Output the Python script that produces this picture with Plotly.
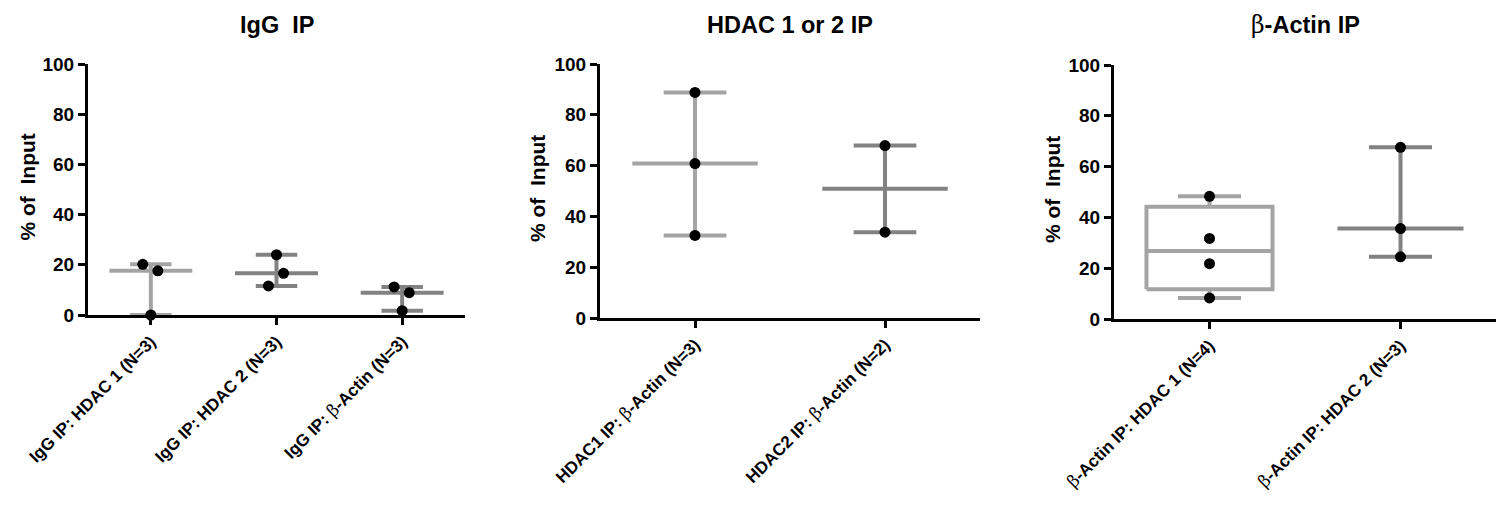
import numpy as np
import plotly.graph_objects as go

# ---------------- data ----------------
BETA = "<span style='font-family:DejaVu Serif;font-weight:normal'>β</span>"

igg_title = "IgG\u00a0 IP"
igg_labels = ["IgG IP: HDAC 1 (N=3)", "IgG IP: HDAC 2 (N=3)", "IgG IP: " + BETA + "-Actin (N=3)"]
igg_values = [[20.2, 17.6, 0.0], [24.0, 16.6, 11.6], [11.2, 8.9, 1.7]]
igg_jitter = [[-0.064, 0.056, 0.0], [0.0, 0.056, -0.064], [-0.064, 0.056, 0.0]]
igg_styles = ["range", "range", "range"]

hdac_title = "HDAC 1 or 2 IP"
hdac_labels = ["HDAC1 IP: " + BETA + "-Actin (N=3)", "HDAC2 IP: " + BETA + "-Actin (N=2)"]
hdac_values = [[88.8, 60.8, 32.5], [67.9, 33.8]]
hdac_jitter = [[0.0, 0.0, 0.0], [0.0, 0.0]]
hdac_styles = ["range", "range"]

actin_title = BETA + "-Actin IP"
actin_labels = [BETA + "-Actin IP: HDAC 1 (N=4)", BETA + "-Actin IP: HDAC 2 (N=3)"]
actin_values = [[48.3, 31.7, 21.8, 8.3], [67.6, 35.6, 24.5]]
actin_jitter = [[0.0, 0.0, 0.0, 0.0], [0.0, 0.0, 0.0]]
actin_styles = ["box", "range"]

y_title = "% of\u00a0 Input"
y_ticks = [0, 20, 40, 60, 80, 100]

# ---------------- style ----------------
OFF = 8                      # page body margin of the browser
W, H = 1507 - 2 * OFF, 506 - 2 * OFF
LIGHT = "#a4a4a4"
DARK = "#828282"
FONT = "Liberation Sans, Arial, sans-serif"
LW = 4
HALF = 0.33   # half-width of median line / box
CAP = 0.165   # half-width of caps

# pixel boxes of the plot areas in the page (x0, x1, ytop, ybottom)
areas = [(88, 465, 64, 315), (600, 980, 64, 318), (1114, 1496, 65, 319)]
ytitle_x = [27, 537, 1052]

panels = [
    (igg_title, igg_labels, igg_values, igg_jitter, igg_styles),
    (hdac_title, hdac_labels, hdac_values, hdac_jitter, hdac_styles),
    (actin_title, actin_labels, actin_values, actin_jitter, actin_styles),
]


def px(x):
    return (x - OFF) / W


def py(y):
    return 1 - (y - OFF) / H


fig = go.Figure()
annotations = []
layout = {}

for p, (title, labels, values, jitter, styles) in enumerate(panels):
    sfx = "" if p == 0 else str(p + 1)
    xa, ya = "x" + sfx, "y" + sfx
    x0, x1, yt, yb = areas[p]
    n = len(labels)
    for i, vals in enumerate(values):
        col = LIGHT if i == 0 else DARK
        v = np.array(vals)
        vmin, vmax, med = v.min(), v.max(), float(np.median(v))
        line = dict(color=col, width=LW)
        if styles[i] == "box":
            q1, q3 = np.percentile(v, [25, 75], method="weibull")
            fig.add_trace(go.Scatter(x=[i, i, None, i, i], y=[q3, vmax, None, q1, vmin], mode="lines",
                                     line=line, xaxis=xa, yaxis=ya, cliponaxis=False, hoverinfo="skip"))
            fig.add_trace(go.Scatter(x=[i - HALF, i + HALF, i + HALF, i - HALF, i - HALF],
                                     y=[q1, q1, q3, q3, q1], mode="lines",
                                     line=dict(color=col, width=LW), xaxis=xa, yaxis=ya,
                                     cliponaxis=False, hoverinfo="skip"))
        else:
            fig.add_trace(go.Scatter(x=[i, i], y=[vmin, vmax], mode="lines", line=line,
                                     xaxis=xa, yaxis=ya, cliponaxis=False, hoverinfo="skip"))
        fig.add_trace(go.Scatter(x=[i - CAP, i + CAP, None, i - CAP, i + CAP],
                                 y=[vmax, vmax, None, vmin, vmin], mode="lines", line=line,
                                 xaxis=xa, yaxis=ya, cliponaxis=False, hoverinfo="skip"))
        fig.add_trace(go.Scatter(x=[i - HALF, i + HALF], y=[med, med], mode="lines", line=line,
                                 xaxis=xa, yaxis=ya, cliponaxis=False, hoverinfo="skip"))
    for i, vals in enumerate(values):
        fig.add_trace(go.Scatter(x=[i + j for j in jitter[i]], y=vals, mode="markers",
                                 marker=dict(color="black", size=11),
                                 xaxis=xa, yaxis=ya, cliponaxis=False, hoverinfo="skip"))

    axis_common = dict(showline=True, linecolor="black", linewidth=3, ticks="outside",
                       ticklen=7, tickwidth=2.5, tickcolor="black", showgrid=False,
                       zeroline=False, mirror=False, automargin=False)
    layout["xaxis" + sfx] = dict(axis_common, domain=[px(x0), px(x1)], range=[-0.5, n - 0.5],
                                 tickvals=list(range(n)), ticktext=labels, tickangle=-45,
                                 anchor=ya, fixedrange=True,
                                 tickfont=dict(family=FONT, size=17, color="black", weight="bold"))
    layout["yaxis" + sfx] = dict(axis_common, domain=[py(yb), py(yt)], range=[0, 100],
                                 tickvals=y_ticks, anchor=xa, fixedrange=True,
                                 tickfont=dict(family=FONT, size=19, color="black", weight="bold"))
    annotations.append(dict(text=title, x=px((x0 + x1) / 2), y=py(25), xref="paper", yref="paper",
                            xanchor="center", yanchor="middle", showarrow=False,
                            font=dict(family=FONT, size=23.5, color="black", weight="bold")))
    annotations.append(dict(text=y_title, x=px(ytitle_x[p]), y=py((yt + yb) / 2 - 2),
                            xref="paper", yref="paper", xanchor="center", yanchor="middle",
                            textangle=-90, showarrow=False,
                            font=dict(family=FONT, size=21, color="black", weight="bold")))

fig.update_layout(**layout)
fig.update_layout(width=W, height=H, margin=dict(l=0, r=0, t=0, b=0, autoexpand=False),
                  showlegend=False, plot_bgcolor="white", paper_bgcolor="white",
                  annotations=annotations)
fig.write_html("out.html")
